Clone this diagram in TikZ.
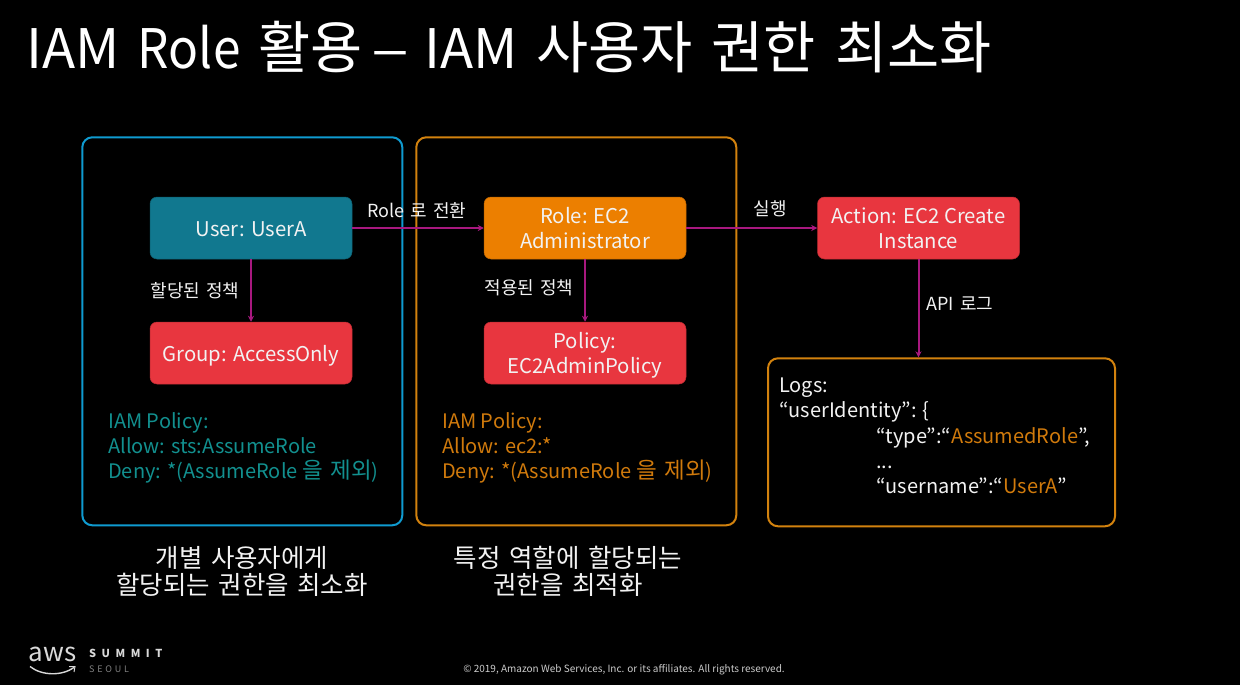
\documentclass[tikz,border=0pt]{standalone}
\usepackage{fontspec}
\setmainfont{Noto Sans CJK KR}
\newfontfamily\wide{Noto Sans CJK KR}[WordSpace=1.5]
\newfontfamily\widek{Noto Sans CJK KR}[Scale=1.04,WordSpace=1.5]
\newcommand\Ktxt[1]{{\fontsize{22.5}{25}\selectfont\wide #1}}
\newcommand\Dn[1]{\raisebox{#1}{\vphantom{X}}}
\usetikzlibrary{arrows.meta}
\definecolor{tealbox}{HTML}{11788F}
\definecolor{orgbox}{HTML}{EC7F00}
\definecolor{redbox}{HTML}{E8363F}
\definecolor{bluebd}{HTML}{0F9BD0}
\definecolor{orgbd}{HTML}{D2820E}
\definecolor{mag}{HTML}{A8187F}
\definecolor{tealtx}{HTML}{12908F}
\definecolor{orgtx}{HTML}{D07A0C}
\definecolor{wht}{HTML}{F2F2F2}
\tikzset{
  x=1pt,y=-1pt,
  panel/.style={draw,line width=2pt,rounded corners=10pt,fill=none,anchor=north west,inner sep=0pt},
  solid box/.style={rounded corners=7pt,draw=black!20!#1,line width=0.5pt,fill=#1,text=wht,minimum width=202pt,minimum height=62pt,inner sep=1pt,align=center,font=\fontsize{20.3}{25}\selectfont},
  link/.style={draw=mag,line width=2pt,-{Stealth[length=6pt,width=6pt]}},
  linklabel/.style={text=wht,font=\fontsize{18}{20}\selectfont\wide,inner sep=0pt},
  policy/.style={anchor=north west,align=left,inner sep=0pt,font=\fontsize{20}{25}\selectfont},
  caption/.style={text=wht,align=center,inner sep=0pt,font=\fontsize{25.5}{27}\selectfont\wide},
}
\begin{document}
\begin{tikzpicture}
\path[use as bounding box,fill=black] (0,0) rectangle (1240,685);
\node[anchor=west,inner sep=0pt,text=white,font=\fontsize{54.5}{60}\selectfont\wide] (title) at (26,47) {IAM \scalebox{0.91}[1]{Role} {\widek 활용}\hspace{-10pt} \scalebox{1.3}[1]{–}\hspace{-3pt} IAM {\widek 사용자 권한 최소화}};

\node[panel,draw=bluebd,minimum width=320pt,minimum height=388pt] (pa) at (81.3,136.3) {};
\node[panel,draw=orgbd,minimum width=320pt,minimum height=388pt] (pb) at (415.3,136.3) {};
\node[panel,draw=orgbd,minimum width=347pt,minimum height=168pt] (logs) at (767,357.3) {};

\node[solid box=tealbox] (user) at (251,228) {\Dn{2pt}User: UserA};
\node[solid box=orgbox] (role) at (585,228) {Role: EC2\\Administrator};
\node[solid box=redbox] (action) at (918.5,228) {Action: EC2 Create\\Instance};
\node[solid box=redbox] (group) at (251,353) {\Dn{6pt}Group: AccessOnly};
\node[solid box=redbox] (policy) at (585,353) {\Dn{6pt}Policy:\\EC2AdminPolicy};

\draw[link] (user) -- (role);
\draw[link] (role) -- (action);
\draw[link] (user) -- (group);
\draw[link] (role) -- (policy);
\draw[link] (action.south) -- (action.south |- logs.north);

\node[linklabel] (l1) at (417,211) {Role 로 전환};
\node[linklabel] (l2) at (770,208.5) {실행};
\node[linklabel] (l3) at (195,290.5) {할당된 정책};
\node[linklabel] (l4) at (529,288) {적용된 정책};
\node[linklabel] (l5) at (960,304) {API 로그};

\node[policy,text=tealtx] (p1) at (108,412) {IAM Policy:\\Allow: sts:AssumeRole\\Deny: *(AssumeRole \Ktxt{을 제외})};
\node[policy,text=orgtx] (p2) at (442,412) {IAM Policy:\\Allow: ec2:*\\Deny: *(AssumeRole \Ktxt{을 제외})};

\node[policy,text=wht] (lg1) at (779,377.5) {Logs:\\“userIdentity”: \{};
\node[policy,text=wht] (lg2) at (876,427) {“type”:“\textcolor{orgtx}{AssumedRole}”,\\...\\“username”:“\textcolor{orgtx}{UserA}”};

\node[caption] (c1) at (242,571) {개별 사용자에게\\할당되는 권한을 최소화};
\node[caption] (c2) at (568,571) {특정 역할에 할당되는\\권한을 최적화};

\node[inner sep=0pt,text=white!85!black,font=\fontsize{26}{26}\selectfont] (aws) at (52.5,654) {aws};
\draw[white!85!black,line width=1.4pt] (30,666.5) .. controls (42,676) and (62,676) .. (74,667.5);
\draw[white!85!black,line width=1pt] (69,666.5) -- (75,666.5) -- (74,672);
\node[anchor=west,inner sep=0pt,text=white!85!black,font=\fontsize{11}{11}\selectfont\bfseries] (summit) at (89,653) {S\hspace{5.5pt}U\hspace{5.5pt}M\hspace{5.5pt}M\hspace{5.5pt}I\hspace{5.5pt}T};
\node[anchor=west,inner sep=0pt,text=white!50!black,font=\fontsize{9}{9}\selectfont] (seoul) at (89,669) {S\hspace{2.8pt}E\hspace{2.8pt}O\hspace{2.8pt}U\hspace{2.8pt}L};
\node[inner sep=0pt,text=white!80!black,font=\fontsize{10}{12}\selectfont] (copy) at (624,670) {© 2019, Amazon Web Services, Inc. or its affiliates. All rights reserved.};
\end{tikzpicture}
\end{document}
